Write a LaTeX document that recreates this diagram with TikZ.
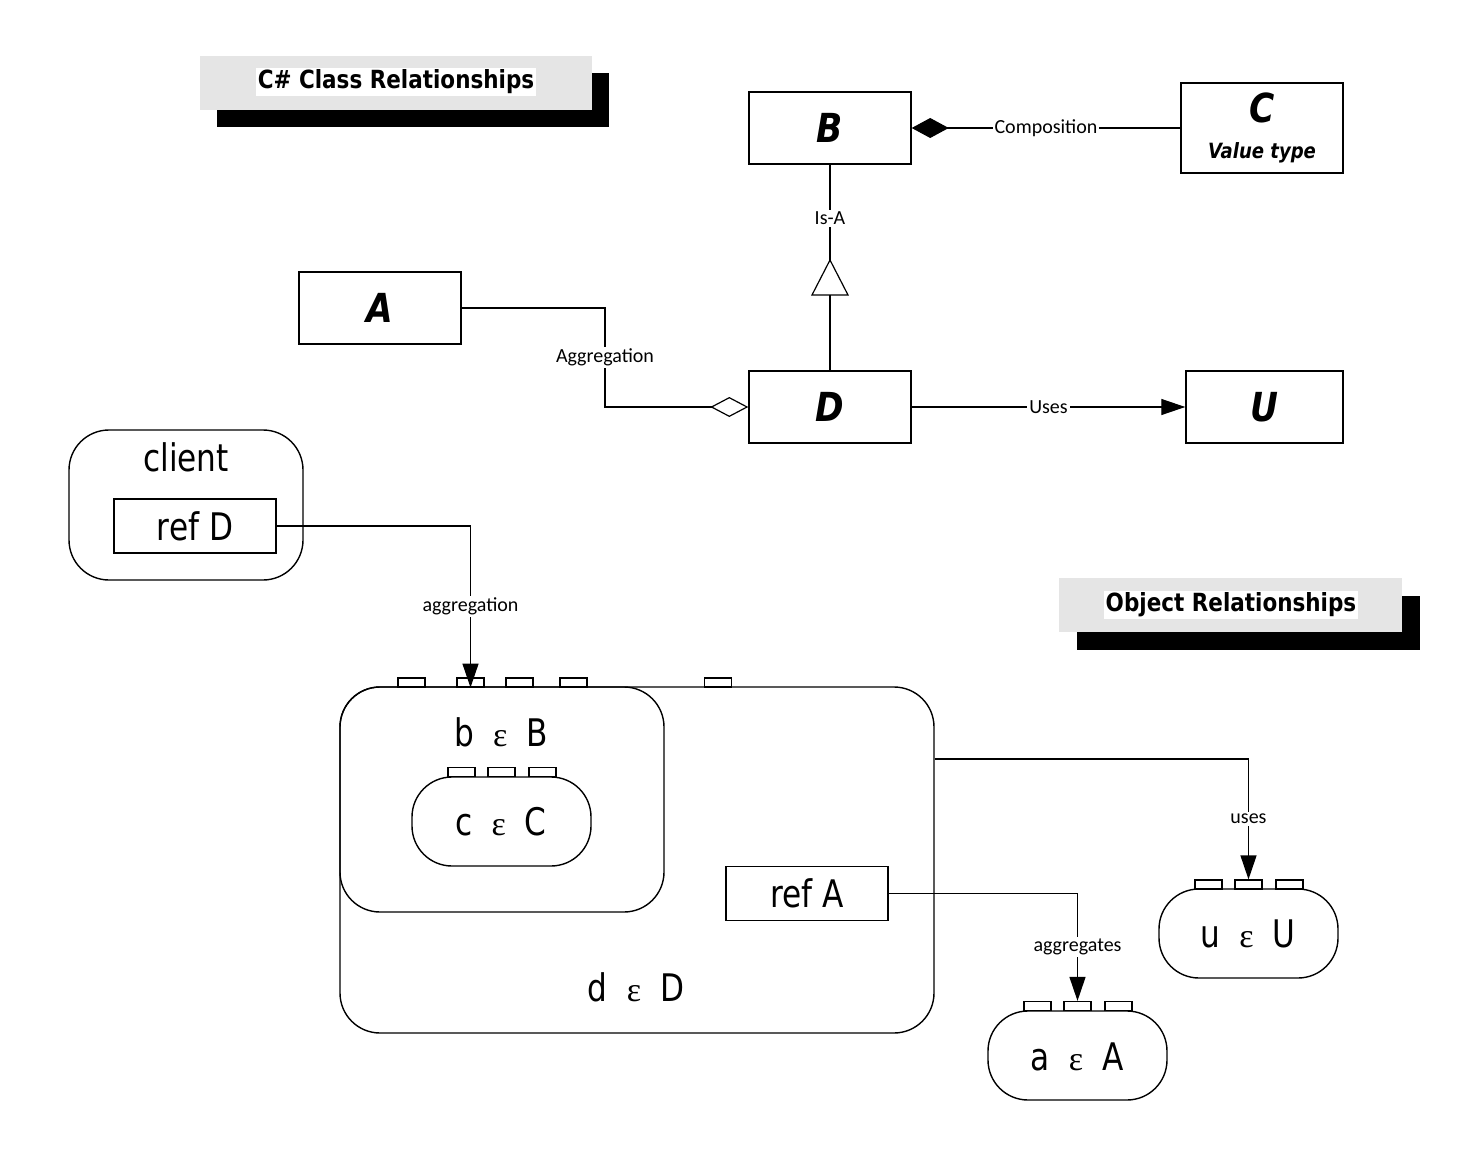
\documentclass[tikz,border=0pt]{standalone}
\usepackage{fontspec}
\usetikzlibrary{arrows.meta,calc}
\newfontfamily\labfont{Carlito}
\newfontfamily\dvfont[FakeStretch=0.82]{DejaVu Sans}
\newfontfamily\dvtfont[FakeStretch=0.86]{DejaVu Sans}
\newfontfamily\epsfont{Liberation Serif}
\newcommand{\elem}[2]{#1\hspace{0.5em}{\epsfont\fontsize{17}{19}\selectfont ε}\hspace{0.5em}#2}
\begin{document}
\begin{tikzpicture}[x=0.5pt,y=-0.5pt,
  clsbox/.style={draw,line width=0.7pt,minimum width=81pt,minimum height=36pt,inner sep=0pt,
    font=\dvtfont\bfseries\itshape\fontsize{20}{22}\selectfont},
  lbl/.style={fill=white,inner sep=1pt,font=\labfont\fontsize{10}{12}\selectfont},
  objbox/.style={draw,line width=0.7pt,rounded corners=20pt,inner sep=0pt},
  reftxt/.style={draw,line width=0.7pt,minimum width=81pt,minimum height=27pt,inner sep=0pt,
    font=\dvfont\fontsize{19}{21}\selectfont},
  objtxt/.style={inner sep=0pt,font=\dvfont\fontsize{19}{21}\selectfont},
  portbox/.style={draw,fill=white,line width=0.6pt,minimum width=13.5pt,minimum height=4.5pt,inner sep=0pt},
  conn/.style={line width=0.6pt},
  tip/.style={-{Triangle[length=12pt,width=8pt]}},
  titlebg/.style={fill=gray!20,minimum width=196pt,minimum height=27pt,inner sep=0pt},
  titleshadow/.style={fill=black,minimum width=196pt,minimum height=27pt,inner sep=0pt},
  titletxt/.style={fill=white,inner sep=1pt,font=\dvtfont\bfseries\fontsize{12.5}{14}\selectfont}
]
\useasboundingbox (0,0) rectangle (1478,1156);

% titles
\node[titleshadow] (t1s) at (413,100.5) {};
\node[titlebg] (t1b) at (396,83) {};
\node[titletxt] (t1) at (396,82) {C\# Class Relationships};
\node[titleshadow,minimum width=171.5pt] (t2s) at (1248.5,623) {};
\node[titlebg,minimum width=171.5pt] (t2b) at (1230.5,605) {};
\node[titletxt] (t2) at (1231,605) {Object Relationships};

% class diagram
\node[clsbox] (B) at (830,128) {B};
\node[clsbox,minimum height=45pt,align=center] (C) at (1262,128)
  {C\\[-4pt]{\fontsize{10.5}{12}\selectfont Value type}};
\node[clsbox] (A) at (380,308) {A};
\node[clsbox] (D) at (830,407) {D};
\node[clsbox,minimum width=78.5pt] (U) at (1264.5,407) {U};

\draw[conn,{Diamond[length=18.5pt,width=10pt]}-] (B.east) -- node[lbl]{Composition} (C.west);
\draw[conn,-{Triangle[length=12pt,width=8pt]}] (D.east) -- node[lbl]{Uses} (U.west);
\coordinate (aggx) at (605,0);
\draw[conn,-{Diamond[open,length=19pt,width=10pt]}] (A.east) -- (A.east -| aggx)
  -- node[lbl]{Aggregation} (D.west -| aggx) -- (D.west);
\coordinate (apex) at (830,260);
\coordinate (tbase) at (830,295);
\draw[conn] (B.south) -- node[lbl,pos=0.56]{Is-A} (apex);
\draw[conn] (apex) -- ($(tbase)+(18,0)$) -- ($(tbase)+(-18,0)$) -- cycle;
\draw[line width=1.2pt] (tbase) -- (D.north);

% object diagram
\node[objbox,minimum width=117pt,minimum height=75pt] (client) at (186,505) {};
\node[objtxt] (clientl) at (186,457) {client};
\node[reftxt] (refD) at (195,526) {ref D};

\node[objbox,minimum width=297pt,minimum height=173pt] (d) at (637,860) {};
\node[objbox,minimum width=162pt,minimum height=112.5pt] (b) at (502,799.5) {};
\node[objtxt] (dl) at (636,987) {\elem{d}{D}};
\node[objtxt] (bl) at (501,732) {\elem{b}{B}};
\node[objbox,minimum width=89.5pt,minimum height=44.5pt] (c) at (501.5,821.5) {};
\node[objtxt] (cl) at (501,822) {\elem{c}{C}};
\node[reftxt] (refA) at (807,893.5) {ref A};

\node[portbox] (dp1) at (411.5,682.5) {};
\node[portbox] (dp2) at (470.5,682.5) {};
\node[portbox] (dp3) at (519.5,682.5) {};
\node[portbox] (dp4) at (573.5,682.5) {};
\node[portbox] (dp5) at (718,682.5) {};
\node[portbox] (cp1) at (461.5,772) {};
\node[portbox] (cp2) at (501.5,772) {};
\node[portbox] (cp3) at (542.5,772) {};

\node[objbox,minimum width=89.5pt,minimum height=44.5pt] (a) at (1077.5,1055.5) {};
\node[objtxt] (al) at (1077,1057) {\elem{a}{A}};
\node[portbox] (ap1) at (1037.5,1006) {};
\node[portbox] (ap2) at (1077.5,1006) {};
\node[portbox] (ap3) at (1118.5,1006) {};

\node[objbox,minimum width=89.5pt,minimum height=44.5pt] (u) at (1248.5,933.5) {};
\node[objtxt] (ul) at (1248,934) {\elem{u}{U}};
\node[portbox] (up1) at (1208.5,884.5) {};
\node[portbox] (up2) at (1248.5,884.5) {};
\node[portbox] (up3) at (1289.5,884.5) {};

\draw[conn,tip] (refD.east) -| node[lbl,pos=0.75]{aggregation} (dp2.south);
\draw[conn,tip] (refA.east) -| node[lbl,pos=0.75]{aggregates} (ap2.north);
\coordinate (uy) at (0,759);
\draw[conn,tip] (d.east |- uy) -| node[lbl,pos=0.75]{uses} (up2.north);
\end{tikzpicture}
\end{document}
